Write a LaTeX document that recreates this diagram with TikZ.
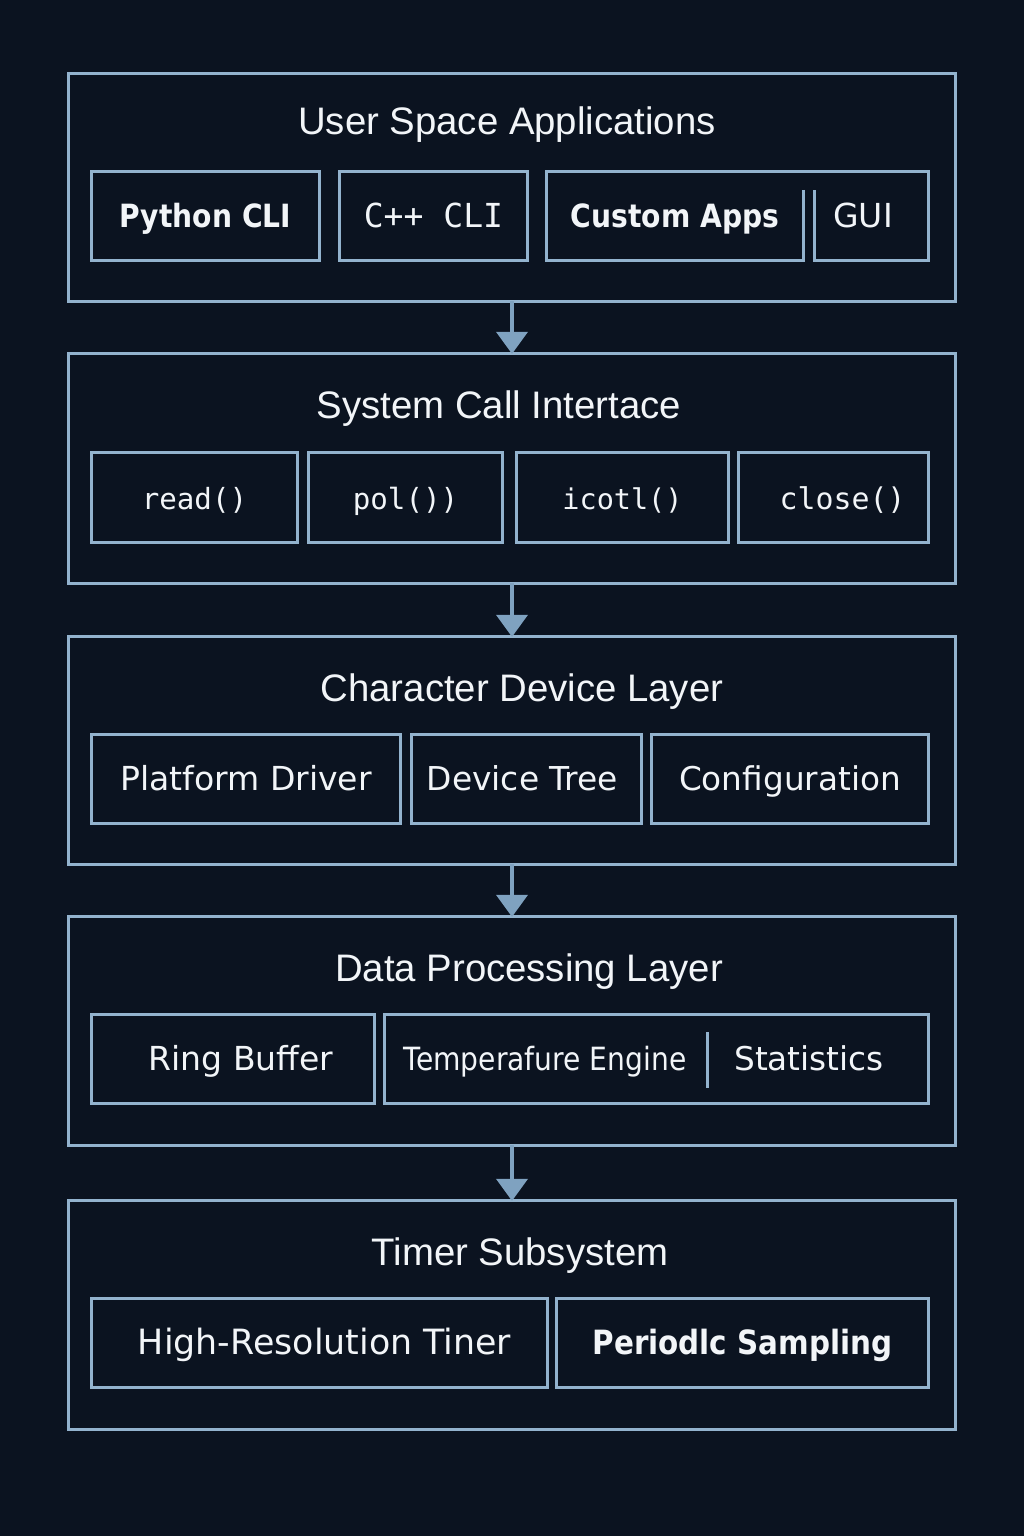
\documentclass[tikz,border=0pt]{standalone}
\usepackage{fontspec}
\setmainfont{Liberation Sans}
\newfontfamily\labfont{DejaVu Sans}
\newfontfamily\labcond[FakeStretch=0.88]{DejaVu Sans}
\newfontfamily\codefont{DejaVu Sans Mono}
\usetikzlibrary{arrows.meta}

\definecolor{bgnavy}{HTML}{0B1320}
\definecolor{edgeblue}{HTML}{93B3CE}
\definecolor{arrowblue}{HTML}{7FA2C0}
\definecolor{inkwhite}{HTML}{F2F5F8}

\tikzset{
  layer/.style={draw=edgeblue, line width=0.85pt, outer sep=0pt, inner sep=0pt,
    minimum width=8.86cm},
  title/.style={text=inkwhite, anchor=base, inner sep=0pt,
    font=\fontsize{10.9}{12}\selectfont},
  sub/.style={draw=edgeblue, line width=0.85pt, outer sep=0pt, inner sep=0pt,
    minimum height=0.88cm, text=inkwhite, text height=6.8pt, text depth=0pt},
  plain/.style={sub, draw=none},
  txt/.style={text=inkwhite, inner sep=0pt, text height=6.8pt, text depth=0pt},
  fsans/.style={font=\labfont\fontsize{#1}{11}\selectfont},
  fcond/.style={font=\labcond\fontsize{#1}{11}\selectfont},
  fbold/.style={font=\labcond\bfseries\fontsize{#1}{11}\selectfont},
  fmono/.style={font=\codefont\fontsize{#1}{11}\selectfont},
  conn/.style={draw=arrowblue, line width=1.2pt,
    -{Triangle[width=8.8pt, length=6.3pt]}},
  divider/.style={draw=edgeblue, line width=0.85pt},
}

\begin{document}
\begin{tikzpicture}[x=0.01cm, y=-0.01cm]
  % canvas
  \fill[bgnavy] (0,0) rectangle (1024,1536);

  % layers
  \node[layer, minimum height=2.27cm] (L1) at (512,187.5) {};
  \node[layer, minimum height=2.29cm] (L2) at (512,468.5) {};
  \node[layer, minimum height=2.27cm] (L3) at (512,750.5) {};
  \node[layer, minimum height=2.28cm] (L4) at (512,1031) {};
  \node[layer, minimum height=2.28cm] (L5) at (512,1315) {};

  % layer titles
  \node[title] (t1) at (507,134) {User Space Applications};
  \node[title] (t2) at (499,418) {System Call Intertace};
  \node[title] (t3) at (522,701) {Character Device Layer};
  \node[title] (t4) at (529,981) {Data Processing Layer};
  \node[title] (t5) at (520,1265) {Timer Subsystem};

  % user space
  \node[sub, minimum width=2.27cm, fbold=9.1] (py) at (205.5,216) {Python CLI};
  \node[sub, minimum width=1.87cm, fmono=9.4] (cpp) at (433.5,216) {C++ CLI};
  \node[plain, minimum width=2.56cm, fbold=9.1] (apps) at (675,216) {Custom Apps};
  \node[plain, minimum width=1.13cm, fsans=9.4] (gui) at (871.5,216) {GUI\kern0.17cm};
  \draw[divider] ([yshift=-0.18cm]apps.north east) -- (apps.south east)
    -- (apps.south west) -- (apps.north west) -- (gui.north east)
    -- (gui.south east) -- (gui.south west) -- ([yshift=-0.18cm]gui.north west);

  % system calls
  \node[sub, minimum width=2.05cm, minimum height=0.89cm, fmono=8.3] (rd) at (194.5,497.5) {read()};
  \node[sub, minimum width=1.93cm, minimum height=0.89cm, fmono=8.3] (pl) at (405.5,497.5) {pol())};
  \node[sub, minimum width=2.11cm, minimum height=0.89cm, fmono=8.1] (ic) at (622.5,497.5) {icotl()};
  \node[sub, minimum width=1.89cm, minimum height=0.89cm, fmono=8.5] (cl) at (833.5,497.5) {\kern0.18cm close()};

  % character device
  \node[sub, minimum width=3.08cm, fsans=9.4] (plat) at (246,779) {Platform Driver};
  \node[sub, minimum width=2.29cm, fsans=9.35] (dt) at (526.5,779) {\kern-0.08cm Device Tree};
  \node[sub, minimum width=2.76cm, fsans=9.3] (conf) at (790,779) {Configuration};

  % data processing
  \node[sub, minimum width=2.82cm, fsans=9.4] (ring) at (233,1059) {\kern0.16cm Ring Buffer};
  \node[sub, minimum width=5.43cm] (proc) at (656.5,1059) {};
  \node[txt, fcond=9.1] (eng) at (545,1059) {Temperafure Engine};
  \node[txt, fsans=9.3] (stat) at (809,1059) {Statistics};
  \draw[divider] (707,1032) -- (707,1088);

  % timer
  \node[sub, minimum width=4.55cm, fsans=9.9] (hrt) at (319.5,1343) {\kern0.1cm High-Resolution Tiner};
  \node[sub, minimum width=3.71cm, fbold=9.5] (samp) at (742.5,1343) {Periodlc Sampling};

  % flow between layers
  \draw[conn] (L1.south) -- (L2.north);
  \draw[conn] (L2.south) -- (L3.north);
  \draw[conn] (L3.south) -- (L4.north);
  \draw[conn] (L4.south) -- (L5.north);
\end{tikzpicture}
\end{document}
